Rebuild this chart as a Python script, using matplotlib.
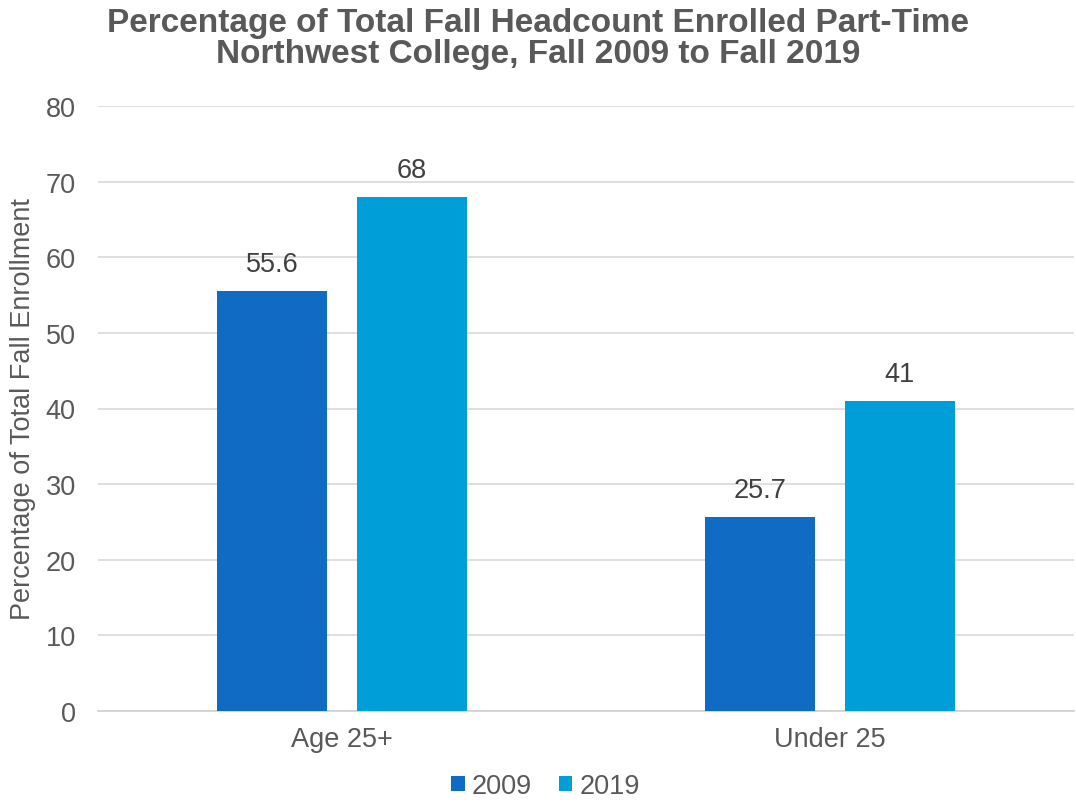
import matplotlib
matplotlib.use("Agg")
import matplotlib.pyplot as plt
import numpy as np

categories = ["Age 25+", "Under 25"]
years = ["2009", "2019"]
values_2009 = [55.6, 25.7]
values_2019 = [68, 41]
yticks = [0, 10, 20, 30, 40, 50, 60, 70, 80]

colors = ["#0F6BC4", "#009ED8"]
text_gray = "#595959"

plt.rcParams["font.family"] = ["Liberation Sans", "DejaVu Sans"]
fs = 19.5

fig = plt.figure(figsize=(10.76, 8.03), dpi=100)
ax = fig.add_axes([98 / 1076, 91 / 803, 976 / 1076, 605 / 803])

x = np.arange(len(categories))
width = 0.225
offset = 0.143
series = [values_2009, values_2019]
for i, (vals, col, lab) in enumerate(zip(series, colors, years)):
    pos = x + (i - 0.5) * 2 * offset
    bars = ax.bar(pos, vals, width=width, color=col, label=lab, zorder=3)
    ax.bar_label(bars, labels=[f"{v:g}" for v in vals], padding=10,
                 fontsize=fs, color="#404040")

ax.set_xlim(-0.5, 1.5)
ax.set_ylim(0, 80)
ax.set_yticks(yticks)
ax.set_xticks(x)
ax.set_xticklabels(categories)
ax.tick_params(axis="both", length=0, labelsize=fs, colors=text_gray)
ax.tick_params(axis="y", pad=16)
ax.tick_params(axis="x", pad=11)
ax.grid(axis="y", color="#D9D9D9", linewidth=1.2, zorder=0)
for s in ["top", "right", "left"]:
    ax.spines[s].set_visible(False)
ax.spines["bottom"].set_color("#D0D0D0")
ax.spines["bottom"].set_linewidth(1.2)

ax.set_ylabel("Percentage of Total Fall Enrollment", fontsize=fs,
              color=text_gray, labelpad=7)

fig.suptitle("Percentage of Total Fall Headcount Enrolled Part-Time\n"
             "Northwest College, Fall 2009 to Fall 2019",
             x=0.5, y=0.99, fontsize=24, fontweight="bold", color=text_gray,
             linespacing=1.0)

fig.legend(loc="lower center", bbox_to_anchor=(0.507, -0.027), ncol=2,
           frameon=False, fontsize=fs, handlelength=0.5, handleheight=0.5,
           handletextpad=0.25, columnspacing=1.0, labelcolor=text_gray)

fig.savefig("out.png", dpi=100)
